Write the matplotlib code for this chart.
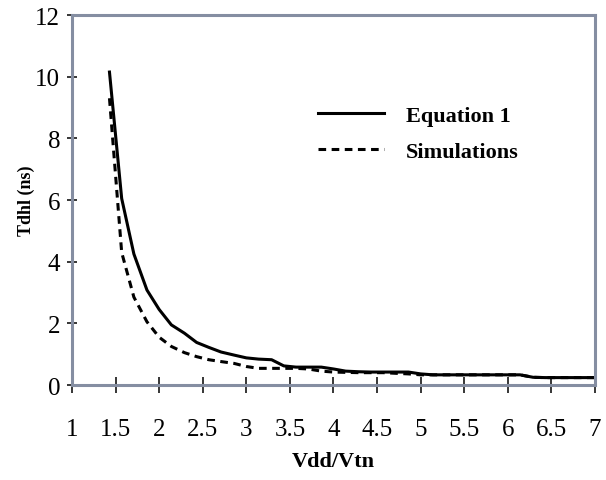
import matplotlib
matplotlib.use('Agg')
from matplotlib import pyplot as plt

# Vdd/Vtn ratio (Vtn = 0.7 V, Vdd stepped 1.0 .. 4.9 V)
ratio = [1.43, 1.57, 1.71, 1.86, 2.00, 2.14, 2.29, 2.43, 2.57, 2.71,
         2.86, 3.00, 3.14, 3.29, 3.43, 3.57, 3.71, 3.86, 4.00, 4.14,
         4.29, 4.43, 4.57, 4.71, 4.86, 5.00, 5.14, 5.29, 5.43, 5.57,
         5.71, 5.86, 6.00, 6.14, 6.29, 6.43, 6.57, 6.71, 6.86, 7.00]

# Tdhl (ns) from equation 1
tdhl_eq = [10.15, 6.05, 4.25, 3.08, 2.45, 1.95, 1.68, 1.38, 1.22, 1.07,
           0.97, 0.88, 0.84, 0.82, 0.62, 0.58, 0.58, 0.58, 0.52, 0.45,
           0.43, 0.42, 0.42, 0.42, 0.42, 0.36, 0.33, 0.33, 0.33, 0.33,
           0.33, 0.33, 0.33, 0.33, 0.25, 0.24, 0.24, 0.24, 0.24, 0.24]

# Tdhl (ns) from simulations
tdhl_sim = [9.30, 4.30, 2.85, 2.05, 1.55, 1.25, 1.05, 0.92, 0.82, 0.76,
            0.70, 0.60, 0.54, 0.54, 0.54, 0.54, 0.52, 0.45, 0.42, 0.41,
            0.40, 0.40, 0.40, 0.38, 0.36, 0.33, 0.33, 0.33, 0.33, 0.33,
            0.33, 0.33, 0.33, 0.33, 0.25, 0.24, 0.24, 0.24, 0.24, 0.24]

x_ticks = [1, 1.5, 2, 2.5, 3, 3.5, 4, 4.5, 5, 5.5, 6, 6.5, 7]
x_labels = ['1', '1.5', '2', '2.5', '3', '3.5', '4', '4.5', '5', '5.5', '6', '6.5', '7']
y_ticks = [0, 2, 4, 6, 8, 10, 12]

serif = 'Liberation Serif'
frame_col = '#858ea2'

fig = plt.figure(figsize=(6.06, 4.81), dpi=100)
ax = fig.add_axes([0.1188, 0.1975, 0.863, 0.7692])

ax.plot(ratio, tdhl_eq, color='black', lw=2.2, label='Equation 1')
ax.plot(ratio, tdhl_sim, color='black', lw=2.2, dashes=(2.5, 1.8),
        label='Simulations')

ax.set_xlim(1, 7)
ax.set_ylim(0, 12)
ax.set_xticks(x_ticks)
ax.set_xticklabels(x_labels)
ax.set_yticks(y_ticks)

for side in ['left', 'right', 'top', 'bottom']:
    ax.spines[side].set_color(frame_col)
    ax.spines[side].set_linewidth(2.2)

ax.tick_params(axis='x', direction='inout', length=11, width=1.1,
               color='black', pad=18, labelsize=18)
ax.tick_params(axis='y', direction='inout', length=7, width=1.1,
               color='black', pad=5, labelsize=18)
for lab in ax.get_xticklabels() + ax.get_yticklabels():
    lab.set_family(serif)

ax.set_xlabel('Vdd/Vtn', family=serif, fontweight='bold', fontsize=16,
              labelpad=8)
ax.set_ylabel('Tdhl (ns)', family=serif, fontweight='bold', fontsize=13,
              labelpad=0)

ax.legend(loc='center left', bbox_to_anchor=(0.47, 0.68), frameon=False,
          borderpad=0, borderaxespad=0, handlelength=3.0,
          handletextpad=0.95, labelspacing=0.68,
          prop={'family': serif, 'weight': 'bold', 'size': 16})

fig.savefig('out.png', dpi=100)
